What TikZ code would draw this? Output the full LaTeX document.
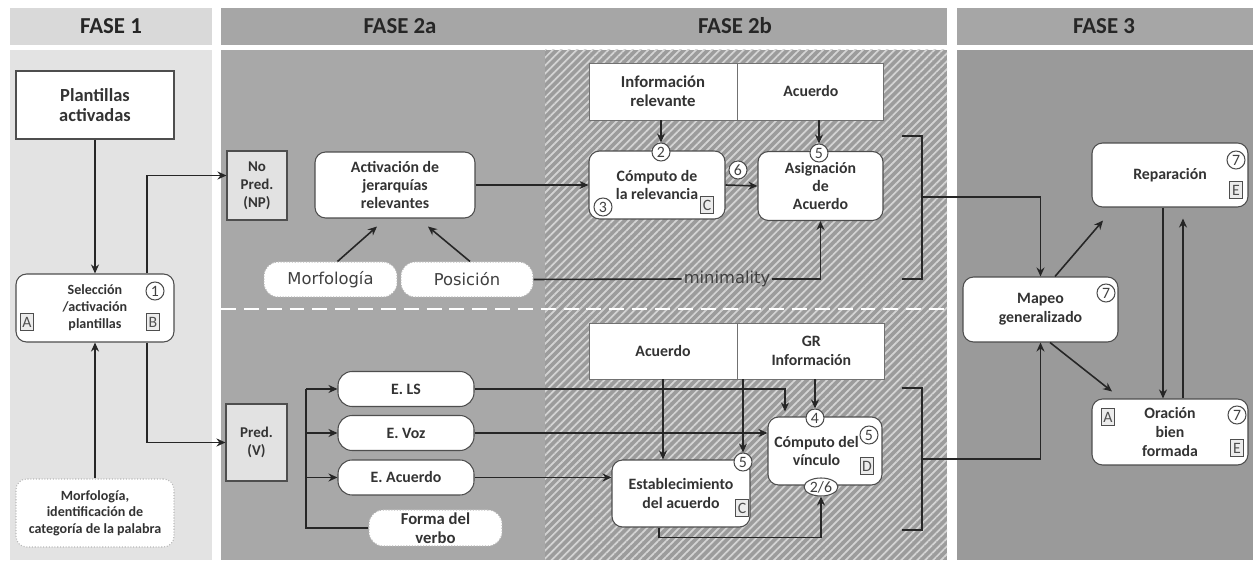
\documentclass[tikz,border=0pt]{standalone}
\usepackage{fontspec}
\setmainfont{Carlito}
\newfontfamily\plainfont{DejaVu Sans}
\usetikzlibrary{arrows.meta,positioning,calc,patterns.meta,shapes.geometric}
\definecolor{headone}{RGB}{217,217,217}
\definecolor{bodyone}{RGB}{227,227,227}
\definecolor{headtwo}{RGB}{166,166,166}
\definecolor{bodytwoa}{RGB}{168,168,168}
\definecolor{bodytwob}{RGB}{156,156,156}
\definecolor{hatchgray}{RGB}{212,212,212}
\definecolor{bodythree}{RGB}{154,154,154}
\definecolor{edgegray}{RGB}{78,78,78}
\definecolor{arrowgray}{RGB}{38,38,38}
\definecolor{tagfill}{RGB}{236,236,236}
\definecolor{predfill}{RGB}{226,226,226}
\tikzset{
  head/.style  ={font=\fontsize{13}{14}\selectfont\bfseries, text=black!85},
  box/.style   ={rectangle, draw=edgegray, line width=0.6pt, fill=white, align=center,
                 inner sep=1pt, text=black!80, font=\fontsize{9}{10.4}\selectfont\bfseries},
  tbox/.style  ={box, draw=edgegray!80, line width=0.5pt},
  rbox/.style  ={box, rounded corners=6pt},
  pill/.style  ={box, rounded corners=8pt},
  dpill/.style ={pill, draw=gray!55, densely dotted},
  pbox/.style  ={box, fill=predfill, font=\fontsize{8.5}{10.2}\selectfont\bfseries},
  numc/.style  ={circle, draw=edgegray, fill=white, line width=0.6pt, inner sep=0pt,
                 minimum size=0.36cm, text=black!75, font=\fontsize{9}{9}\selectfont},
  tagb/.style  ={rectangle, draw=edgegray, fill=tagfill, line width=0.5pt, inner sep=0pt,
                 minimum width=0.27cm, minimum height=0.34cm, text=edgegray,
                 font=\fontsize{9}{9}\selectfont},
  flow/.style  ={-{Stealth[length=1.8mm,width=1.6mm]}, line width=0.9pt, draw=arrowgray},
  conn/.style  ={line width=0.9pt, draw=arrowgray},
  brack/.style ={line width=1.7pt, draw=black!85},
  plain/.style ={font=\plainfont\fontsize{9.3}{10}\selectfont, text=black!75}
}
\begin{document}
\begin{tikzpicture}[x=0.02cm, y=-0.02cm]
  \useasboundingbox (0,0) rectangle (1259,563);
  \fill[white] (0,0) rectangle (1259,563);
  % phase panels
  \fill[headone] (10,8) rectangle (212,45);
  \fill[headtwo] (221,8) rectangle (947,45);
  \fill[headtwo] (957,8) rectangle (1253,45);
  \fill[bodyone] (10,50) rectangle (212,560);
  \fill[bodytwoa] (221,50) rectangle (947,560);
  \fill[bodytwob] (545,50) rectangle (947,560);
  \fill[pattern={Lines[angle=45,distance=3.2pt,line width=1pt]}, pattern color=hatchgray]
    (545,50) rectangle (947,560);
  \fill[bodythree] (957,50) rectangle (1253,560);
  \draw[white, line width=1.7pt, dash pattern=on 8.5pt off 4.5pt] (221,309) -- (947,309);

  \node[head] (f1) at (111,26) {FASE 1};
  \node[head] (f2a) at (400,26) {FASE 2a};
  \node[head] (f2b) at (735,26) {FASE 2b};
  \node[head] (f3) at (1104,26) {FASE 3};

  % fase 1
  \node[box, minimum width=3.16cm, minimum height=1.36cm, font=\fontsize{10.5}{11.6}\selectfont\bfseries]
    (plant) at (95,105) {Plantillas\\activadas};
  \node[rbox, minimum width=3.16cm, minimum height=1.36cm, font=\fontsize{8}{9.6}\selectfont\bfseries]
    (sel) at (95,308) {Selección\\/activación\\plantillas};
  \node[rbox, draw=gray!55, densely dotted, minimum width=3.16cm, minimum height=1.36cm,
    font=\fontsize{8}{9.4}\selectfont\bfseries]
    (morf1) at (95,513) {Morfología,\\identificación de\\categoría de la palabra};
  \node[numc] (n1) at (155,291) {1};
  \node[tagb] (ta) at (27,322) {A};
  \node[tagb] (tb) at (153,322) {B};

  % fase 2a
  \node[pbox, minimum width=1.2cm, minimum height=1.38cm] (np) at (257,185.5) {No\\Pred.\\(NP)};
  \node[pbox, minimum width=1.22cm, minimum height=1.54cm] (pred) at (256.5,442.5) {Pred.\\(V)};
  \node[rbox, minimum width=3.2cm, minimum height=1.32cm, font=\fontsize{9}{10}\selectfont\bfseries]
    (act) at (395,185) {Activación de\\jerarquías\\relevantes};
  \node[dpill, plain, minimum width=2.66cm, minimum height=0.7cm] (morf) at (330.5,279.5) {Morfología};
  \node[dpill, plain, minimum width=2.64cm, minimum height=0.7cm] (pos) at (467,279.5) {Posición};
  \node[pill, minimum width=2.72cm, minimum height=0.7cm] (els) at (406,389) {E. LS};
  \node[pill, minimum width=2.72cm, minimum height=0.7cm] (evoz) at (406,433) {E. Voz};
  \node[pill, minimum width=2.72cm, minimum height=0.7cm] (eacu) at (406,477.5) {E. Acuerdo};
  \node[dpill, minimum width=2.66cm, minimum height=0.72cm, font=\fontsize{9.5}{10.8}\selectfont\bfseries]
    (forma) at (435.5,528) {Forma del\\verbo};
  \coordinate (trunk) at (306,389);

  % fase 2b, arriba
  \node[tbox, minimum width=2.96cm, minimum height=1.14cm, font=\fontsize{9.5}{10.8}\selectfont\bfseries]
    (inforel) at (663,91.5) {Información\\relevante};
  \node[tbox, minimum width=2.92cm, minimum height=1.14cm, right=0cm of inforel] (acu1) {Acuerdo};
  \node[rbox, minimum width=2.72cm, minimum height=1.36cm, font=\fontsize{9}{9.8}\selectfont\bfseries]
    (comprel) at (657,185) {Cómputo de\\la relevancia};
  \node[rbox, minimum width=2.5cm, minimum height=1.38cm, font=\fontsize{9}{10.3}\selectfont\bfseries]
    (asig) at (820.5,186) {Asignación\\de\\Acuerdo};
  \node[numc] (n2) at (661,152) {2};
  \node[numc] (n3) at (603,207) {3};
  \node[tagb] (tc1) at (707,205) {C};
  \node[numc] (n6) at (738,170) {6};
  \node[numc] (n5a) at (819,153) {5};
  \node[plain, inner sep=1pt] (minl) at (727,279) {minimality};

  % fase 2b, abajo
  \node[tbox, minimum width=2.96cm, minimum height=1.12cm] (acu2) at (663,351) {Acuerdo};
  \node[tbox, minimum width=2.94cm, minimum height=1.12cm, right=0cm of acu2] (gri) {GR\\Información};
  \node[rbox, minimum width=2.28cm, minimum height=1.36cm]
    (compv) at (825,451) {Cómputo del\hspace*{0.34cm}\\vínculo\hspace*{0.34cm}};
  \node[rbox, minimum width=2.76cm, minimum height=1.34cm]
    (estab) at (681,493.5) {Establecimiento\\del acuerdo};
  \node[numc] (n4) at (815,418) {4};
  \node[numc] (n5c) at (869,435) {5};
  \node[tagb] (td) at (867,466) {D};
  \node[ellipse, draw=edgegray, fill=white, line width=0.6pt, inner xsep=0.5pt, inner ysep=0pt,
    minimum height=0.36cm, text=black!75, font=\fontsize{9}{9}\selectfont] (n26) at (821,487) {2/6};
  \node[numc] (n5b) at (743,462) {5};
  \node[tagb] (tc2) at (742,508) {C};

  % fase 3
  \node[rbox, minimum width=3.12cm, minimum height=1.28cm] (rep) at (1170,175) {Reparación};
  \node[rbox, minimum width=3.1cm, minimum height=1.3cm, font=\fontsize{9}{10.8}\selectfont\bfseries]
    (mapeo) at (1040.5,309.5) {Mapeo\\generalizado};
  \node[rbox, minimum width=3.12cm, minimum height=1.32cm, font=\fontsize{9}{10.8}\selectfont\bfseries]
    (orac) at (1170,432) {Oración\\bien\\formada};
  \node[numc] (n7a) at (1236,160) {7};
  \node[tagb] (te1) at (1236,190) {E};
  \node[numc] (n7b) at (1106,293) {7};
  \node[tagb] (ta2) at (1108,417) {A};
  \node[numc] (n7c) at (1237,415) {7};
  \node[tagb] (te2) at (1237,448) {E};

  % conexiones fase 1
  \draw[flow] (plant) -- (sel);
  \draw[flow] (morf1) -- (sel);
  \draw[flow] ([xshift=1.04cm]sel.north) |- ([yshift=0.2cm]np.west);
  \draw[flow] ([xshift=1.04cm]sel.south) |- (pred.west);

  % conexiones fase 2a
  \draw[flow] ([xshift=0.14cm]morf.north) -- ([xshift=-0.36cm,yshift=-0.16cm]act.south);
  \draw[flow] ([xshift=0.06cm]pos.north) -- ([xshift=0.66cm,yshift=-0.16cm]act.south);
  \draw[flow] (act.east) -- (comprel.west);
  \draw[conn] (pos.east) -- (minl.west);
  \draw[flow] (minl.east) -| (asig.south);
  \draw[conn] (trunk |- els.west) -- (trunk |- forma.west) -- (forma.west);
  \foreach \n in {els,evoz,eacu}
    \draw[flow] (trunk |- \n.west) -- (\n.west);

  % conexiones fase 2b
  \draw[flow] (n2 |- inforel.south) -- (n2.north);
  \draw[flow] (n5a |- acu1.south) -- (n5a.north);
  \draw[flow] (comprel.east) -- (asig.west);
  \draw[flow] (acu2.south) -- (acu2.south |- estab.north);
  \draw[flow] (n5b |- acu2.south) -- (n5b.north);
  \draw[flow] (n4 |- gri.south) -- (n4.north);
  \draw[flow] (els.east) -| ([xshift=-0.8cm,yshift=0.1cm]compv.north);
  \draw[flow] (evoz.east) -- (evoz.east -| compv.west);
  \draw[flow] (eacu.east) -- (eacu.east -| estab.west);
  \draw[flow] ([xshift=-0.44cm]estab.south) -- ++(0,10) -| (n26.south);

  % corchetes
  \draw[brack] (902,136) -- (922,136) -- (922,279) -- (902,279);
  \draw[brack] (902,388) -- (922,388) -- (922,530) -- (902,530);
  \coordinate (br1) at (922,197);
  \coordinate (br2) at (922,459);
  \draw[flow] (br1) -| (mapeo.north);
  \draw[flow] (br2) -| (mapeo.south);

  % conexiones fase 3
  \draw[flow] ([xshift=0.29cm]mapeo.north) -- ([xshift=-1.34cm,yshift=-0.26cm]rep.south);
  \draw[flow] ([xshift=0.19cm]mapeo.south) -- ([xshift=-1.16cm,yshift=0.14cm]orac.north);
  \draw[flow] ([xshift=-0.14cm]rep.south) -- ([xshift=-0.14cm]orac.north);
  \draw[flow] ([xshift=0.26cm]orac.north) -- ([xshift=0.26cm,yshift=-0.22cm]rep.south);
\end{tikzpicture}
\end{document}
